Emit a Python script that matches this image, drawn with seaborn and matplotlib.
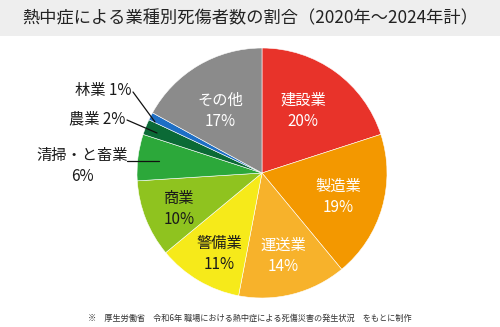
import matplotlib
matplotlib.use("Agg")
import matplotlib.pyplot as plt
import seaborn as sns
from matplotlib.patches import Rectangle

# ---- data ----
categories = ["建設業", "製造業", "運送業", "警備業", "商業", "清掃・と畜業", "農業", "林業", "その他"]
shares = [20, 19, 14, 11, 10, 6, 2, 1, 17]
colors = ["#e8332a", "#f39800", "#f7b22b", "#f6ea1a", "#8fc31f", "#2ca83a", "#0b6a36", "#1e6fc5", "#8b8b8b"]
title = "熱中症による業種別死傷者数の割合（2020年～2024年計）"
note = "※　厚生労働省　令和6年 職場における熱中症による死傷災害の発生状況　をもとに制作"

sns.set_theme(style="white")
plt.rcParams["font.family"] = ["Noto Sans CJK JP", "DejaVu Sans"]

W, H = 500, 327
fig = plt.figure(figsize=(W / 100, H / 100), dpi=100)
ax = fig.add_axes([0, 0, 1, 1])

def Y(y):
    return H - y

# pie
cx, cy, r = 262, Y(173), 125
ax.pie(shares, colors=colors, startangle=90, counterclock=False,
       center=(cx, cy), radius=r, frame=True,
       wedgeprops=dict(linewidth=0.4, edgecolor="#ffffff"))
ax.set_xlim(0, W)
ax.set_ylim(0, H)
ax.set_aspect("equal")
ax.axis("off")

# title bar
ax.add_patch(Rectangle((0, Y(36)), W, 36, facecolor="#eeeeee", edgecolor="none", zorder=0))
ax.text(250, Y(18), title, ha="center", va="center", fontsize=12.4, color="#222222")

# inside labels: (category index, x, y, color)
inside = [
    (0, 303, 111, "white"),
    (1, 338, 197, "white"),
    (2, 283, 256, "white"),
    (3, 219, 254, "#1a1a1a"),
    (4, 179, 209, "#1a1a1a"),
    (8, 220, 111, "white"),
]
for i, x, y, c in inside:
    ax.text(x, Y(y), f"{categories[i]}\n{shares[i]}%", ha="center", va="center",
            fontsize=11, color=c, linespacing=1.3)

# outside labels with leader lines
ax.text(103, Y(90), f"{categories[7]} {shares[7]}%", ha="center", va="center", fontsize=11, color="#1a1a1a")
ax.plot([133, 155], [Y(92), Y(122)], color="#111111", lw=0.9)

ax.text(97, Y(119), f"{categories[6]} {shares[6]}%", ha="center", va="center", fontsize=11, color="#1a1a1a")
ax.plot([127, 157], [Y(120), Y(133)], color="#111111", lw=0.9)

ax.text(82, Y(166), f"{categories[5]}\n{shares[5]}%", ha="center", va="center", fontsize=11,
        color="#1a1a1a", linespacing=1.3)
ax.plot([127, 159], [Y(161), Y(161)], color="#111111", lw=0.9)

# footnote
ax.text(250, Y(318), note, ha="center", va="center", fontsize=5.9, color="#333333")

fig.savefig("out.png", dpi=100)
